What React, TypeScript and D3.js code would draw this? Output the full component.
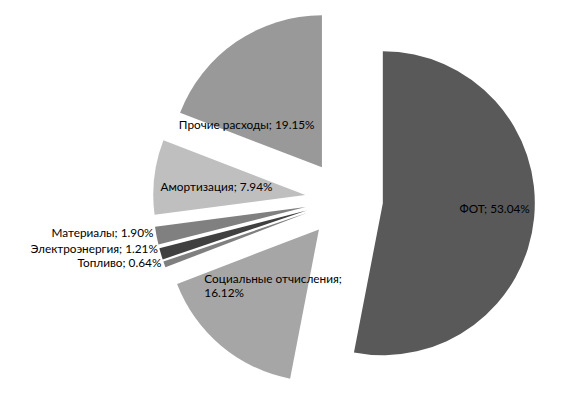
import React, { useEffect, useRef } from "react";
import * as d3 from "d3";

const categories = [
  "ФОТ",
  "Социальные отчисления",
  "Топливо",
  "Электроэнергия",
  "Материалы",
  "Амортизация",
  "Прочие расходы",
];
const shares = [53.04, 16.12, 0.64, 1.21, 1.9, 7.94, 19.15];
const colors = ["#595959", "#a6a6a6", "#7f7f7f", "#404040", "#808080", "#bfbfbf", "#999999"];

// label placement relative to each slice apex: [angle in degrees, distance, mode]
// outside labels sit at the rim, nudged by dy so they don't collide
const labelSpots: Record<string, { a: number; d: number; mode: string; dy?: number }> = {
  "ФОТ": { a: 93.5, d: 112, mode: "middle" },
  "Социальные отчисления": { a: 220.4, d: 75, mode: "wrap" },
  "Топливо": { a: 0, d: 0, mode: "outside", dy: 0 },
  "Электроэнергия": { a: 0, d: 0, mode: "outside", dy: -4 },
  "Материалы": { a: 0, d: 0, mode: "outside", dy: -2 },
  "Амортизация": { a: 274.5, d: 89, mode: "middle" },
  "Прочие расходы": { a: 299, d: 86, mode: "middle" },
};

const App = () => {
  const ref = useRef<SVGSVGElement>(null);

  useEffect(() => {
    const svg = d3.select(ref.current);
    const width = 566;
    const height = 397;
    const cx = 344;
    const cy = 199.5;
    const radius = 152;
    const explode = 39;

    svg.selectAll("*").remove();
    svg.attr("width", width).attr("height", height);

    const data = categories.map((c, i) => ({ name: c, value: shares[i], color: colors[i] }));

    const pie = d3.pie<any>().sort(null).value(d => d.value);
    const arcs = pie(data);
    const arc = d3.arc<any>().innerRadius(0).outerRadius(radius);

    const polar = (a: number, r: number) => [Math.sin(a) * r, -Math.cos(a) * r];

    const g = svg.append("g").attr("transform", `translate(${cx},${cy})`);

    const slices = g.selectAll("g.slice")
      .data(arcs)
      .join("g")
      .attr("class", "slice")
      .attr("transform", d => {
        const [dx, dy] = polar((d.startAngle + d.endAngle) / 2, explode);
        return `translate(${dx},${dy})`;
      });

    slices.append("path")
      .attr("d", arc)
      .attr("fill", d => d.data.color);

    const fmt = (v: number) => v.toFixed(2) + "%";

    slices.each(function (d) {
      const sel = d3.select(this);
      const spot = labelSpots[d.data.name];
      const text = sel.append("text")
        .attr("font-family", "Lato, sans-serif")
        .attr("font-size", 11.8)
        .attr("fill", "#000");
      if (spot.mode === "outside") {
        const [ox, oy] = polar((d.startAngle + d.endAngle) / 2, radius);
        text.attr("x", ox - 3).attr("y", oy + (spot.dy ?? 0))
          .attr("text-anchor", "end")
          .attr("dominant-baseline", "middle")
          .text(`${d.data.name}; ${fmt(d.data.value)}`);
      } else {
        const [lx, ly] = polar((spot.a * Math.PI) / 180, spot.d);
        if (spot.mode === "wrap") {
          const line1 = `${d.data.name};`;
          text.attr("text-anchor", "start").attr("dominant-baseline", "middle");
          text.append("tspan").attr("x", lx - 66).attr("y", ly - 6.5).text(line1);
          text.append("tspan").attr("x", lx - 66).attr("y", ly + 7).text(fmt(d.data.value));
        } else {
          text.attr("x", lx).attr("y", ly)
            .attr("text-anchor", "middle")
            .attr("dominant-baseline", "middle")
            .text(`${d.data.name}; ${fmt(d.data.value)}`);
        }
      }
    });
  }, []);

  return <svg ref={ref} style={{ position: "absolute", left: 0, top: 0 }}></svg>;
};

export default App;
